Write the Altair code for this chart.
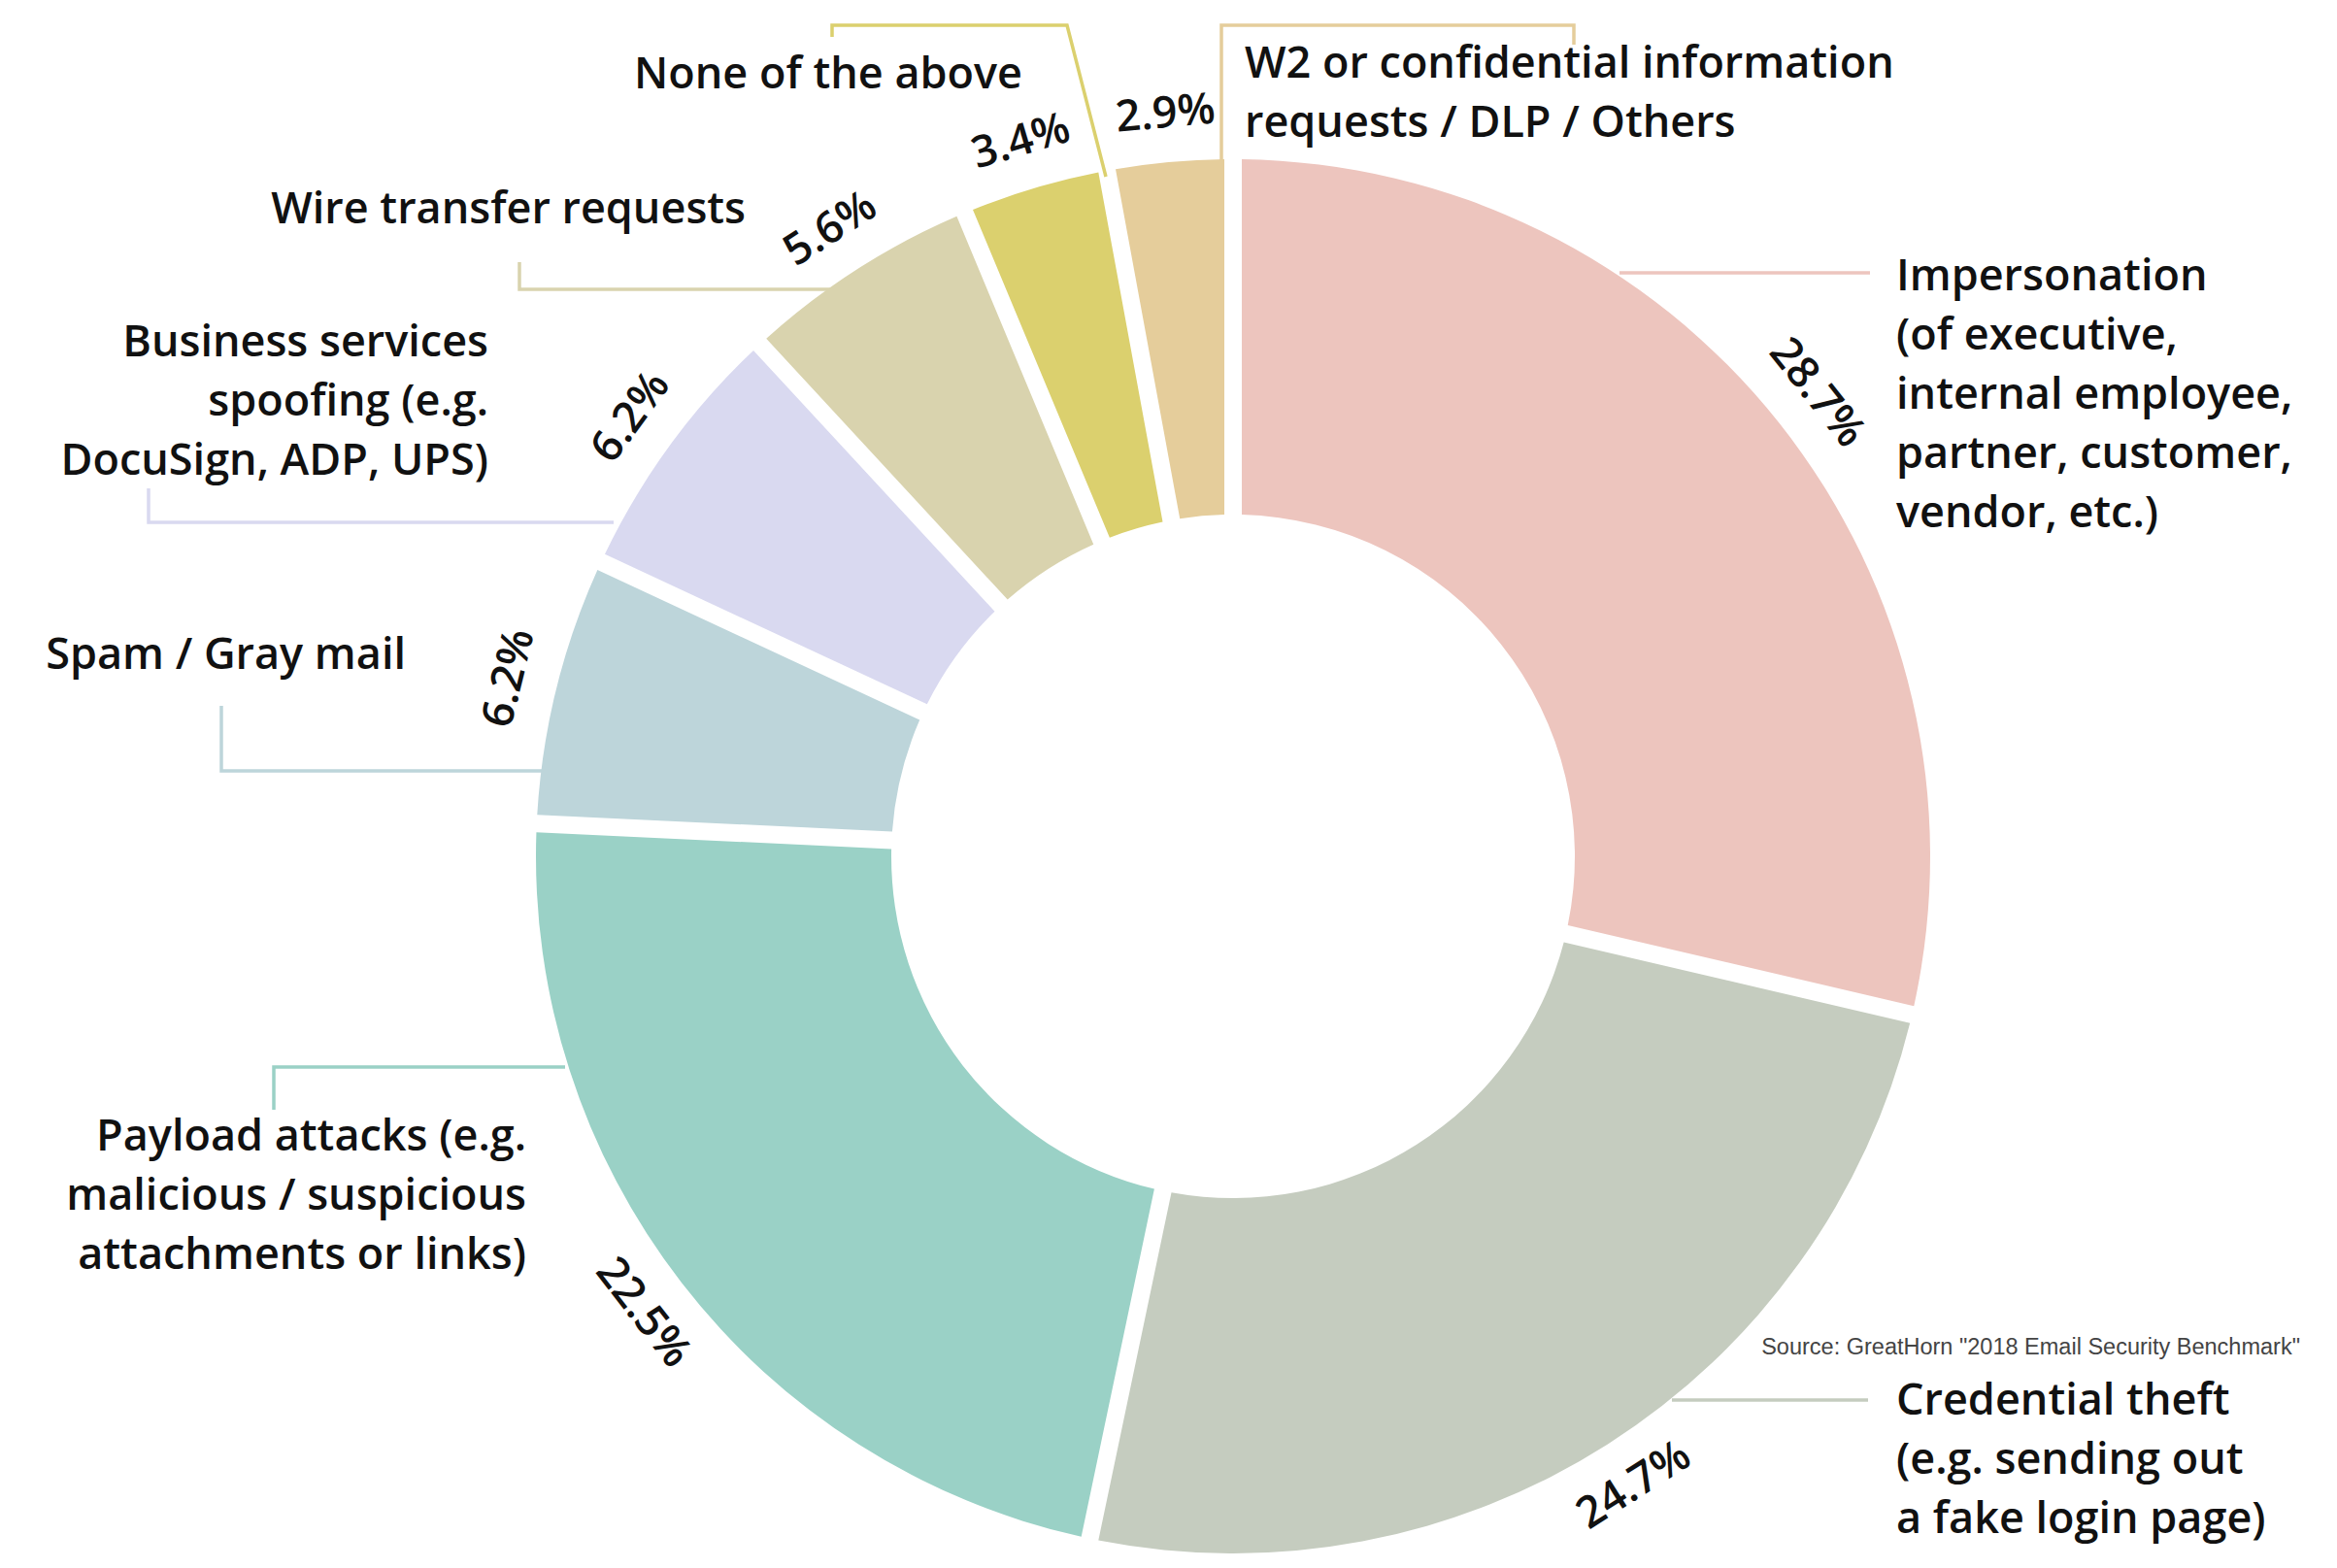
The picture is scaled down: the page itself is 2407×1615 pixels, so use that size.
import altair as alt
import pandas as pd

# ---------------- data ----------------
categories = [
    "Impersonation",
    "Credential theft",
    "Payload attacks",
    "Spam / Gray mail",
    "Business services spoofing",
    "Wire transfer requests",
    "None of the above",
    "W2 / DLP / Others",
]
values = [28.7, 24.7, 22.5, 6.2, 6.2, 5.6, 3.4, 2.9]
label_texts = [
    "Impersonation\n(of executive,\ninternal employee,\npartner, customer,\nvendor, etc.)",
    "Credential theft\n(e.g. sending out\na fake login page)",
    "Payload attacks (e.g.\nmalicious / suspicious\nattachments or links)",
    "Spam / Gray mail",
    "Business services\nspoofing (e.g.\nDocuSign, ADP, UPS)",
    "Wire transfer requests",
    "None of the above",
    "W2 or confidential information\nrequests / DLP / Others",
]
colors = ["#EDC5BE", "#C5CCBF", "#9AD1C6", "#BDD5DA",
          "#D9D9F0", "#D9D3AE", "#DBD06E", "#E5CD9B"]
source_text = 'Source: GreatHorn "2018 Email Security Benchmark"'

# ---------------- layout (annotation geometry, full-image pixel coords) ----------------
W, H = 2385, 1592
OFF = 8
CX, CY = 1270, 882
R_OUT, R_IN = 718, 352
R_LABEL = 768
FONT = "Open Sans"
FSIZE = 45
FWEIGHT = 600

# (x, y of first line centre, align)
label_layout = {
    "Impersonation": (1953, 285, "left"),
    "Credential theft": (1953, 1443, "left"),
    "Payload attacks": (542, 1171, "right"),
    "Spam / Gray mail": (418, 675, "right"),
    "Business services spoofing": (503, 353, "right"),
    "Wire transfer requests": (768, 216, "right"),
    "None of the above": (853, 77, "center"),
    "W2 / DLP / Others": (1282, 66, "left"),
}
leader_paths = {
    "Impersonation": [(1668, 281), (1926, 281)],
    "Credential theft": [(1722, 1442), (1924, 1442)],
    "Payload attacks": [(582, 1099), (282, 1099), (282, 1143)],
    "Spam / Gray mail": [(558, 794), (228, 794), (228, 727)],
    "Business services spoofing": [(632, 538), (153, 538), (153, 503)],
    "Wire transfer requests": [(856, 298), (535, 298), (535, 270)],
    "None of the above": [(857, 38), (857, 26), (1099, 26), (1139, 182)],
    "W2 / DLP / Others": [(1621, 46), (1621, 26), (1258, 26), (1258, 166)],
}
source_pos = (2369, 1388)

# ---------------- frames ----------------
df = pd.DataFrame({
    "idx": list(range(len(categories))),
    "category": categories,
    "value": values,
    "pct": [f"{v}%" for v in values],
})

lab_rows = []
for c, t in zip(categories, label_texts):
    x, y, a = label_layout[c]
    lab_rows.append({"category": c, "text": t, "x": x, "y": y, "align": a})
lab_df = pd.DataFrame(lab_rows)

line_rows = []
for c in categories:
    for i, (x, y) in enumerate(leader_paths[c]):
        line_rows.append({"category": c, "step": i, "x": x, "y": y})
line_df = pd.DataFrame(line_rows)

src_df = pd.DataFrame({"text": [source_text], "x": [source_pos[0]], "y": [source_pos[1]]})

xs = alt.Scale(domain=[OFF, OFF + W])
ys = alt.Scale(domain=[OFF, OFF + H], reverse=True)
cscale = alt.Scale(domain=categories, range=colors)

arc = alt.Chart(df).mark_arc(
    radius=R_OUT, radius2=R_IN, padAngle=0.0225
).encode(
    theta=alt.Theta("value:Q", stack=True),
    order=alt.Order("idx:Q"),
    color=alt.Color("category:N", scale=cscale, legend=None),
    x=alt.value(CX - OFF),
    y=alt.value(CY - OFF),
)

lines = alt.Chart(line_df).mark_line(strokeWidth=3.5, interpolate="linear").encode(
    x=alt.X("x:Q", scale=xs, axis=None),
    y=alt.Y("y:Q", scale=ys, axis=None),
    color=alt.Color("category:N", scale=cscale, legend=None),
    detail="category:N",
    order="step:Q",
)

pct = alt.Chart(df).transform_window(
    cum="sum(value)", sort=[alt.SortField("idx")], frame=[None, 0]
).transform_joinaggregate(
    total="sum(value)"
).transform_calculate(
    mid="(datum.cum - datum.value / 2) / datum.total * 2 * PI",
    px=f"{CX} + {R_LABEL} * sin(datum.mid)",
    py=f"{CY} - {R_LABEL} * cos(datum.mid)",
    deg="datum.mid * 180 / PI",
    rot="(datum.deg > 90 && datum.deg < 270) ? datum.deg - 180 : datum.deg",
).mark_text(
    font=FONT, fontSize=FSIZE, fontWeight=FWEIGHT, color="#111111",
    align="center", baseline="middle"
).encode(
    x=alt.X("px:Q", scale=xs, axis=None),
    y=alt.Y("py:Q", scale=ys, axis=None),
    angle=alt.Angle("rot:Q", scale=None),
    text="pct:N",
)

label_layers = []
for a in ["left", "right", "center"]:
    sub = lab_df[lab_df["align"] == a]
    label_layers.append(
        alt.Chart(sub).mark_text(
            font=FONT, fontSize=FSIZE, fontWeight=FWEIGHT, color="#111111",
            align=a, baseline="middle", lineBreak="\n", lineHeight=61
        ).encode(
            x=alt.X("x:Q", scale=xs, axis=None),
            y=alt.Y("y:Q", scale=ys, axis=None),
            text="text:N",
        )
    )

src = alt.Chart(src_df).mark_text(
    font="Liberation Sans", fontSize=23.5, color="#444444",
    align="right", baseline="middle"
).encode(
    x=alt.X("x:Q", scale=xs, axis=None),
    y=alt.Y("y:Q", scale=ys, axis=None),
    text="text:N",
)

chart = alt.layer(arc, lines, pct, *label_layers, src).properties(
    width=W, height=H, padding=0,
    autosize=alt.AutoSizeParams(type="none"),
    background="white",
).configure_view(stroke=None)

chart.save("out.html", embed_options={"renderer": "svg", "actions": False})
